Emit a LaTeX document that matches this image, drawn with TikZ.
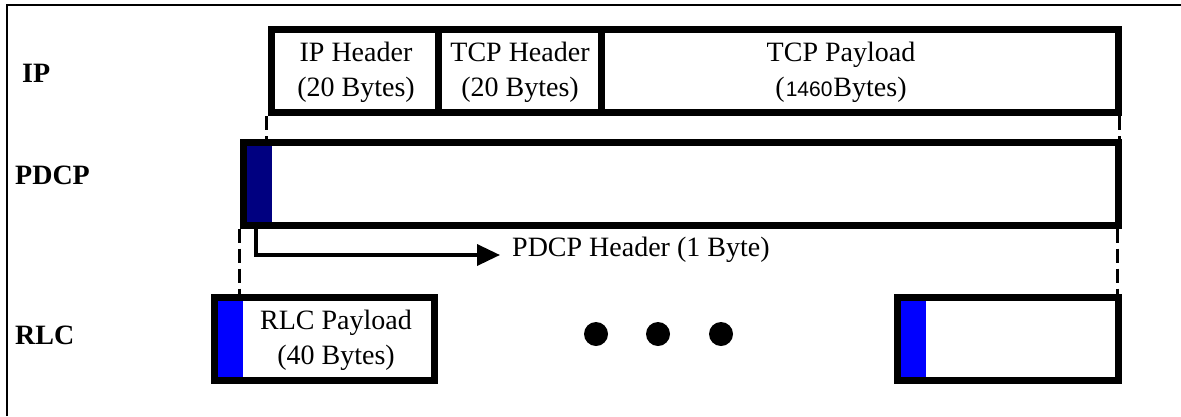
\documentclass[tikz,border=0pt]{standalone}
\usepackage{fontspec}
\setmainfont{Liberation Serif}
\setsansfont{Liberation Sans}
\usetikzlibrary{arrows.meta,positioning}
\definecolor{hdrnavy}{RGB}{0,0,128}
\definecolor{hdrblue}{RGB}{0,0,255}
\tikzset{
  field/.style={draw,line width=7pt,inner sep=0pt,minimum height=83pt},
  hdrblock/.style={draw=none,inner sep=0pt,minimum width=29pt,minimum height=83pt},
  txt/.style={align=center,inner sep=0pt,font=\fontsize{28}{35}\selectfont},
  layer/.style={anchor=west,inner sep=0pt,font=\fontsize{28}{35}\selectfont\bfseries},
  guide/.style={line width=3pt,dash pattern=on 14pt off 6pt},
}
\begin{document}
\begin{tikzpicture}[x=1pt,y=-1pt]
    \useasboundingbox (0,0) rectangle (1181,416);
    \draw[line width=2pt] (6.5,416) -- (6.5,4.5) -- (1181,4.5);

    % layer names
    \node [layer] (lip)   at (22,73)  {IP};
    \node [layer] (lpdcp) at (15,175) {PDCP};
    \node [layer] (lrlc)  at (15,335) {RLC};

    % IP packet
    \node [field,minimum width=167pt] (iphdr)  at (354.5,71) {};
    \node [field,minimum width=163pt] (tcphdr) at (519.5,71) {};
    \node [field,minimum width=517pt] (tcppay) at (859.5,71) {};
    \node [txt] (iphdrtxt)  at (356,72) {IP Header\\(20 Bytes)};
    \node [txt] (tcphdrtxt) at (520,72) {TCP Header\\(20 Bytes)};
    \node [txt] (tcppaytxt) at (841,72) {TCP Payload\\(\kern1pt{\fontsize{21}{21}\selectfont\sffamily 1460}\kern1pt Bytes)};

    % PDCP PDU
    \node [hdrblock,fill=hdrnavy] (pdcphdr) at (257.5,183.5) {};
    \node [field,minimum width=875pt] (pdcp) at (680.5,183.5) {};

    % RLC PDUs
    \node [hdrblock,fill=hdrblue] (rlcAhdr) at (228.5,338.5) {};
    \node [field,minimum width=220pt] (rlcA) at (324,338.5) {};
    \node [txt] (rlcAtxt) at (336,340) {RLC Payload\\(40 Bytes)};
    \node [hdrblock,fill=hdrblue] (rlcBhdr) at (911.5,338.5) {};
    \node [field,minimum width=221pt] (rlcB) at (1007.5,338.5) {};

    \foreach \i/\x in {1/596,2/658,3/721}
        \node [circle,fill,inner sep=0pt,minimum size=24pt] (dot\i) at (\x,334) {};

    % guides between layers
    \draw [guide] ([xshift=-1pt]iphdr.south west) -- ([xshift=-1pt]iphdr.south west |- pdcp.north);
    \draw [guide] ([xshift=-2pt]tcppay.south east) -- ([xshift=-2pt,yshift=-12pt]tcppay.south east |- pdcp.north);
    \draw [guide] (pdcp.south west) -- (pdcp.south west |- rlcA.north);
    \draw [guide] ([xshift=-4pt]pdcp.south east) -- ([xshift=-4pt]pdcp.south east |- rlcB.north);

    % PDCP header pointer
    \coordinate (ptr) at (500,255);
    \draw [line width=3.5pt,-{Triangle[length=23pt,width=21pt]}] ([xshift=-1.5pt]pdcphdr.south) |- (ptr);
    \node [txt,anchor=west] (pdcphdrtxt) at (512,250) {PDCP Header (1 Byte)};

\end{tikzpicture}
\end{document}
